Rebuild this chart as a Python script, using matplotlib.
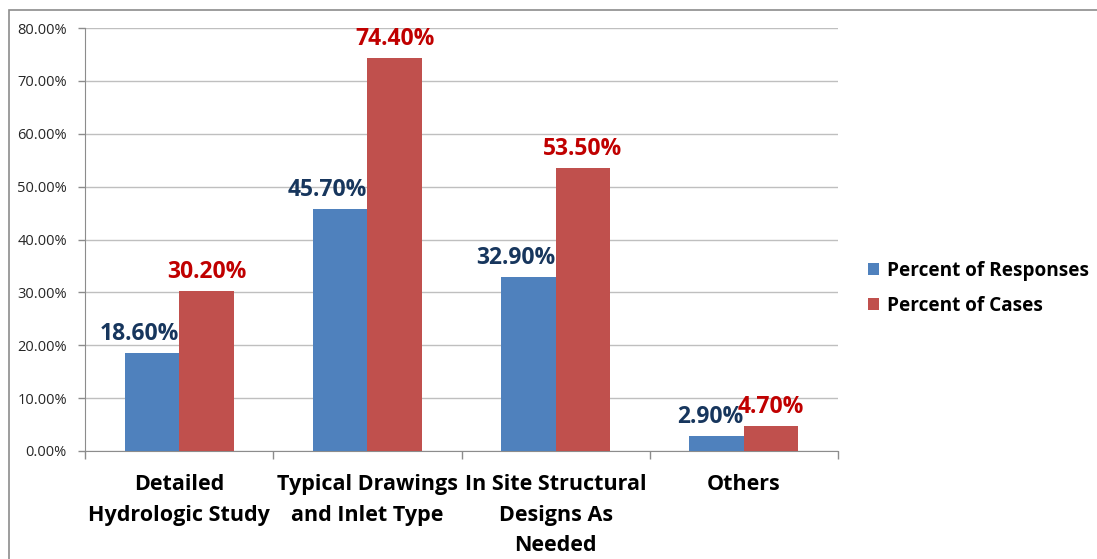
import numpy as np
import matplotlib
matplotlib.use("Agg")
import matplotlib.pyplot as plt
from matplotlib.patches import Rectangle
from matplotlib.ticker import FuncFormatter

categories = ["Detailed\nHydrologic Study", "Typical Drawings\nand Inlet Type",
              "In Site Structural\nDesigns As\nNeeded", "Others"]
responses = [18.6, 45.7, 32.9, 2.9]
cases = [30.2, 74.4, 53.5, 4.7]
series_names = ["Percent of Responses", "Percent of Cases"]

plt.rcParams["font.family"] = ["Open Sans", "DejaVu Sans"]

fig = plt.figure(figsize=(10.97, 5.59), dpi=100)
fig.patches.append(Rectangle((9 / 1097, -0.1), 1.2, 1.1 - 10 / 559, transform=fig.transFigure,
                             fill=False, edgecolor="#8c8c8c", lw=1.2))
ax = fig.add_axes([85 / 1097, 108 / 559, 753 / 1097, 423 / 559])

x = np.arange(len(categories))
w = 0.29
ax.bar(x - w / 2, responses, w, color="#4F81BD", label=series_names[0], zorder=3)
ax.bar(x + w / 2, cases, w, color="#C0504D", label=series_names[1], zorder=3)

for xi, v in zip(x, responses):
    ax.annotate(f"{v:.2f}%", (xi, v), xytext=(0, 5), textcoords="offset points",
                ha="right", va="bottom", fontsize=16.5, fontweight="bold", color="#17365D")
for xi, v in zip(x, cases):
    ax.annotate(f"{v:.2f}%", (xi + w / 2, v), xytext=(0, 5), textcoords="offset points",
                ha="center", va="bottom", fontsize=16.5, fontweight="bold", color="#C00000")

ax.set_xlim(-0.5, 3.5)
ax.set_ylim(0, 80)
ax.set_yticks(np.arange(0, 81, 10))
ax.yaxis.set_major_formatter(FuncFormatter(lambda v, p: f"{v:.2f}%"))
ax.tick_params(axis="y", labelsize=10.5, colors="#8c8c8c", labelcolor="#262626",
               length=5, width=1, pad=8)
ax.yaxis.grid(True, color="#bfbfbf", lw=1, zorder=0)

ax.set_xticks(np.arange(-0.5, 4, 1))
ax.set_xticklabels([])
ax.tick_params(axis="x", length=6, colors="#8c8c8c", width=1)
for xi, lab in zip(x, categories):
    ax.text(xi, -4.4, lab, ha="center", va="top", fontsize=15.5, fontweight="bold",
            color="black", linespacing=1.58)

for s in ["top", "right"]:
    ax.spines[s].set_visible(False)
for s in ["left", "bottom"]:
    ax.spines[s].set_color("#8c8c8c")

ax.legend(loc="center left", bbox_to_anchor=(1.03, 0.385), frameon=False,
          prop={"size": 13.7, "weight": "bold"}, handlelength=0.55, handleheight=0.55,
          handletextpad=0.45, labelspacing=0.8, borderaxespad=0)

fig.savefig("out.png", dpi=100)
